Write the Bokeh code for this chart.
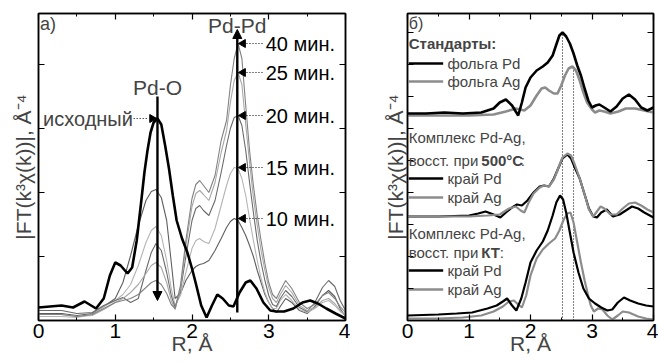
import numpy as np
from bokeh.plotting import figure
from bokeh.models import (Range1d, LinearAxis, SingleIntervalTicker, FixedTicker,
                          Arrow, NormalHead, Label, CustomJSTickFormatter)
from bokeh.layouts import row
from bokeh.embed import file_html
from bokeh.resources import INLINE
from bokeh.core.properties import value

FONT = "Liberation Sans"
YLABEL = "|FT(k³χ(k))|, Å⁻⁴"
XLABEL = "R, Å"

# ---------------- panel a) data ----------------
r_init = [0.0,0.15,0.3,0.45,0.6,0.75,0.85,0.93,1.0,1.07,1.16,1.22,1.28,1.34,1.38,
          1.42,1.46,1.5,1.55,1.6,1.65,1.7,1.75,1.8,1.87,1.94,2.0,2.05,2.12,2.19,
          2.26,2.33,2.4,2.48,2.54,2.62,2.7,2.76,2.84,2.93,3.02,3.1,3.2,3.32,3.44,
          3.54,3.64,3.75,3.87,4.0]
h_init = [13,14,15,13,19,12,22,45,58,55,47,53,80,120,148,
          170,188,198,202,196,175,152,125,100,82,68,52,37,15,3,
          15,26,22,15,14,28,38,40,32,18,10,9,9,12,18,
          20,17,12,7,2]

r_thin = [0.0,0.3,0.5,0.7,0.85,1.0,1.1,1.2,1.3,1.4,1.47,1.53,1.6,1.67,1.73,
          1.78,1.85,1.92,2.0,2.05,2.1,2.15,2.22,2.3,2.38,2.45,2.5,2.55,2.6,2.65,
          2.7,2.75,2.8,2.85,2.9,2.95,3.0,3.05,3.1,3.15,3.22,3.3,3.4,3.5,3.6,
          3.7,3.78,3.86,3.93,4.0]
h_40 = [6,6,4,6,12,18,20,22,26,33,38,40,36,27,16,
        12,35,80,122,136,140,135,128,145,180,200,235,262,277,262,
        215,170,135,105,80,57,38,26,22,30,40,32,18,12,16,
        25,28,22,14,8]
h_25 = [6,6,4,5,11,18,22,28,36,47,55,58,53,38,20,
        11,32,74,114,127,130,126,120,138,168,190,218,240,248,236,
        196,158,123,95,70,50,33,22,18,26,35,28,15,10,13,
        20,22,17,10,5]
h_20 = [10,10,7,8,15,20,23,18,22,50,68,77,70,48,25,
        13,30,64,100,112,115,110,105,120,148,175,192,203,205,195,
        170,138,108,80,58,40,25,16,14,22,30,24,13,9,18,
        33,40,34,20,10]
h_15 = [4,4,3,6,14,20,26,36,55,78,90,94,85,60,32,
        15,25,48,72,80,82,79,77,92,115,135,147,153,152,142,
        125,102,80,60,42,28,18,12,12,20,26,20,11,8,12,
        18,20,15,9,5]
h_10 = [7,7,5,7,14,22,38,65,95,120,129,131,123,100,58,
        22,27,40,50,54,56,57,60,70,82,93,99,102,100,93,
        85,75,64,50,38,26,18,12,8,14,22,18,10,7,14,
        25,30,24,12,4]

times = ["40 мин.", "25 мин.", "20 мин.", "15 мин.", "10 мин."]
time_h = [277, 248, 205, 153, 102]
pdo_r, pdpd_r = 1.55, 2.59

# ---------------- panel б) data ----------------
r_pdfoil = [0,0.3,0.6,0.9,1.2,1.4,1.5,1.6,1.7,1.8,1.86,1.92,2.0,2.1,2.2,2.28,2.36,2.42,2.47,2.52,
            2.58,2.64,2.7,2.76,2.82,2.88,2.94,3.0,3.06,3.12,3.2,3.3,3.4,3.5,3.6,3.7,3.8,3.9,4.0]
h_pdfoil = [207,207,208,207,208,212,218,221,215,205,218,233,243,250,254,258,265,276,285,288,
            284,277,267,255,245,232,220,213,215,216,213,209,214,222,226,221,213,210,213]
r_agfoil = [0,0.5,1.0,1.4,1.6,1.76,1.9,2.0,2.1,2.18,2.24,2.3,2.38,2.44,2.5,2.56,2.62,2.68,2.74,2.8,
            2.86,2.92,3.0,3.05,3.12,3.2,3.3,3.43,3.55,3.7,3.85,4.0]
h_agfoil = [205,205,205,206,209,212,210,215,225,232,233,230,227,227,235,245,252,254,250,240,
            228,218,211,208,210,209,207,209,212,212,210,208]
r_pd500 = [0,0.5,1.0,1.15,1.27,1.4,1.51,1.6,1.7,1.78,1.86,1.95,2.05,2.15,2.22,2.3,2.38,2.45,2.52,2.6,
           2.66,2.72,2.8,2.88,2.95,3.02,3.08,3.15,3.24,3.34,3.45,3.55,3.65,3.75,3.85,4.0]
h_pd500 = [104,104,105,107,109,106,103,108,113,116,115,120,128,134,135,134,142,152,162,166,
           162,153,142,126,112,104,103,108,111,104,106,110,114,112,108,103]
r_ag500 = [0,0.5,1.0,1.3,1.5,1.65,1.76,1.84,1.9,1.97,2.05,2.15,2.22,2.3,2.38,2.45,2.52,2.6,2.66,2.72,
           2.8,2.88,2.95,3.02,3.08,3.14,3.2,3.3,3.4,3.5,3.6,3.7,3.8,3.9,4.0]
h_ag500 = [104,104,104,105,106,112,114,110,108,118,127,133,135,134,141,152,163,167,165,156,
           142,126,111,104,109,114,112,106,106,112,117,118,115,111,108]
r_pdkt = [0,0.5,0.8,1.05,1.3,1.45,1.55,1.62,1.7,1.77,1.85,1.92,2.0,2.1,2.2,2.28,2.36,2.42,2.48,2.53,
          2.58,2.64,2.7,2.78,2.86,2.95,3.05,3.15,3.25,3.33,3.42,3.52,3.62,3.75,3.88,4.0]
h_pdkt = [5,6,7,8,12,15,19,22,15,10,22,38,58,70,79,90,105,118,125,121,
          108,88,68,48,32,22,17,13,10,11,18,23,20,17,15,14]
r_agkt = [0,0.5,0.9,1.2,1.4,1.55,1.65,1.73,1.8,1.86,1.93,2.0,2.1,2.2,2.3,2.4,2.47,2.54,2.6,2.65,
          2.7,2.76,2.82,2.88,2.93,2.98,3.03,3.1,3.17,3.25,3.33,3.42,3.5,3.6,3.75,3.88,4.0]
h_agkt = [2,2,3,5,9,14,19,20,16,13,25,45,62,71,77,82,90,101,107,108,
          98,78,58,40,27,15,9,12,11,5,1,5,9,8,4,2,1]
dot_r = [2.52, 2.70]
dot_top = [288, 254]

GRAY = "#8c8c8c"
BLANK = CustomJSTickFormatter(code="return '';")


def style_axes(p, yticks):
    p.xaxis.ticker = SingleIntervalTicker(interval=1, num_minor_ticks=2)
    p.yaxis.ticker = FixedTicker(ticks=yticks)
    p.add_layout(LinearAxis(ticker=SingleIntervalTicker(interval=1, num_minor_ticks=2)), "above")
    p.add_layout(LinearAxis(ticker=FixedTicker(ticks=yticks)), "right")
    for ax in p.axis:
        ax.axis_line_width = 1.5
        ax.axis_line_color = "black"
        ax.major_tick_in = 6
        ax.major_tick_out = 0
        ax.minor_tick_in = 3
        ax.minor_tick_out = 0
        ax.major_tick_line_width = 1.2
        ax.minor_tick_line_width = 1.0
        ax.major_tick_line_color = "black"
        ax.minor_tick_line_color = "black"
        ax.major_label_text_font = FONT
        ax.axis_label_text_font = FONT
        ax.axis_label_text_font_style = "normal"
    for ax in p.above + p.right + p.left:
        ax.formatter = BLANK
        ax.major_label_standoff = 0
    xa = p.below[0]
    xa.major_label_text_font_size = "21px"
    xa.major_label_text_color = "black"
    xa.major_label_standoff = 3
    xa.axis_label = XLABEL
    xa.axis_label_text_font_size = "21px"
    xa.axis_label_standoff = -9
    ya = p.left[0]
    ya.axis_label = YLABEL
    ya.axis_label_text_font_size = "21px"
    p.xgrid.visible = False
    p.ygrid.visible = False
    p.outline_line_color = "black"
    p.outline_line_width = 1.5


# ---------------- panel a) ----------------
p1 = figure(frame_width=307, frame_height=307, min_border_left=38, min_border_right=5,
            min_border_top=13, min_border_bottom=43, output_backend="svg",
            toolbar_location=None, x_range=Range1d(0, 4), y_range=Range1d(0, 307))
style_axes(p1, [64, 128, 192, 256])
p1.left[0].axis_label_standoff = 4

thin = [(h_10, "#5e5e5e"), (h_15, "#b4b4b4"), (h_20, "#6a6a6a"), (h_25, "#a8a8a8"), (h_40, "#828282")]
for hh, col in thin:
    p1.line(r_thin, hh, line_color=col, line_width=1.1)
p1.line(r_init, h_init, line_color="black", line_width=2.6)

p1.add_layout(Arrow(x_start=pdo_r, y_start=224, x_end=pdo_r, y_end=20, line_width=2.4,
                    end=NormalHead(size=9, fill_color="black", line_color="black")))
p1.add_layout(Arrow(x_start=pdpd_r, y_start=8, x_end=pdpd_r, y_end=291, line_width=2.4,
                    end=NormalHead(size=9, fill_color="black", line_color="black")))

n = len(times)
p1.segment(x0=[2.71] * n, x1=[2.93] * n, y0=time_h, y1=time_h, line_color="black",
           line_width=1, line_dash="1 2")
p1.scatter(x=[2.665] * n, y=time_h, marker="triangle", angle=np.pi / 2, size=8,
           fill_color="black", line_color="black")
p1.text(x=[2.96] * n, y=time_h, text=times, text_baseline="middle", text_align="left",
        text_font=value(FONT), text_font_size="20px", text_color="black")

p1.segment(x0=[1.24], x1=[1.43], y0=[h_init[18]], y1=[h_init[18]], line_color="black",
           line_width=1, line_dash="1 2")
p1.scatter(x=[1.48], y=[h_init[18]], marker="triangle", angle=-np.pi / 2, size=8,
           fill_color="black", line_color="black")
p1.add_layout(Label(x=1.23, y=h_init[18], text="исходный", text_align="right",
                    text_baseline="middle", text_font=FONT, text_font_size="20px"))
p1.add_layout(Label(x=pdo_r, y=233, text="Pd-O", text_align="center",
                    text_baseline="middle", text_font=FONT, text_font_size="21px"))
p1.add_layout(Label(x=pdpd_r, y=295, text="Pd-Pd", text_align="center",
                    text_baseline="middle", text_font=FONT, text_font_size="21px"))
p1.add_layout(Label(x=0.02, y=297, text="a)", text_align="left",
                    text_baseline="middle", text_font=FONT, text_font_size="18px"))

# ---------------- panel б) ----------------
p2 = figure(frame_width=246, frame_height=307, min_border_left=57, min_border_right=5,
            min_border_top=13, min_border_bottom=43, output_backend="svg",
            toolbar_location=None, x_range=Range1d(0, 4), y_range=Range1d(0, 307))
style_axes(p2, [32, 64, 96, 128, 160, 192, 224, 256, 288])
p2.left[0].axis_label_standoff = 1

p2.segment(x0=dot_r, x1=dot_r, y0=[0, 0], y1=dot_top, line_color="black",
           line_width=1, line_dash="1 2")
p2.line(r_agfoil, h_agfoil, line_color=GRAY, line_width=2.6)
p2.line(r_pdfoil, h_pdfoil, line_color="black", line_width=2.6)
p2.line(r_pd500, h_pd500, line_color="black", line_width=2.2)
p2.line(r_ag500, h_ag500, line_color=GRAY, line_width=2.2)
p2.line(r_agkt, h_agkt, line_color=GRAY, line_width=2.2)
p2.line(r_pdkt, h_pdkt, line_color="black", line_width=2.2)

def lab(x, y, t, bold=False, size="15px"):
    p2.add_layout(Label(x=x, y=y, text=t, text_align="left", text_baseline="middle",
                        text_font=FONT, text_font_size=size,
                        text_font_style="bold" if bold else "normal"))

leg_y = [257, 239, 142, 123, 50, 31]
leg_c = ["black", GRAY, "black", GRAY, "black", GRAY]
leg_t = ["фольга Pd", "фольга Ag", "край Pd", "край Ag", "край Pd", "край Ag"]
p2.segment(x0=[0.02] * 6, x1=[0.58] * 6, y0=leg_y, y1=leg_y, line_color=leg_c, line_width=2.6)
for yy, tt in zip(leg_y, leg_t):
    lab(0.65, yy, tt)
lab(0.02, 297, "б)", size="16px")
lab(0.02, 277, "Стандарты:", bold=True)
lab(0.02, 183, "Комплекс Pd-Ag,")
lab(0.02, 160, "восст. при")
lab(1.2, 160, "500°C", bold=True)
lab(1.84, 160, ":")
lab(0.02, 87, "Комплекс Pd-Ag,")
lab(0.02, 68, "восст. при")
lab(1.2, 68, "КТ", bold=True)
lab(1.5, 68, ":")

layout = row(p1, p2)
open("out.html", "w").write(file_html(layout, INLINE))
